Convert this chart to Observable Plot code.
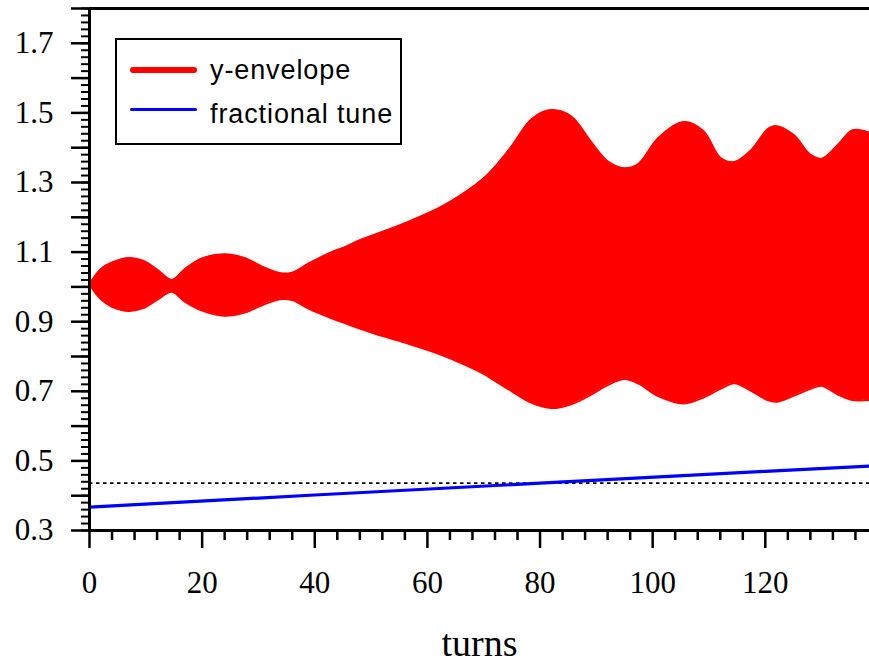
<!DOCTYPE html>
<html>
<head>
<meta charset="utf-8">
<script src="https://cdn.jsdelivr.net/npm/d3@7"></script>
<script src="https://cdn.jsdelivr.net/npm/@observablehq/plot@0.6"></script>
<style>
  html, body { margin: 0; padding: 0; background: white; }
  #wrap { position: relative; width: 869px; height: 663px; overflow: hidden; }
  #legend { position: absolute; left: 115px; top: 38px; width: 283px; height: 103px;
            border: 2px solid black; background: white; font-family: "Liberation Sans", Arial, sans-serif;
            font-size: 27px; letter-spacing: 0.9px; color: black; }
  .sw { position: absolute; left: 13px; width: 67px; }
  .lt { position: absolute; left: 93px; line-height: 1; white-space: nowrap; }
</style>
</head>
<body>
<div id="wrap"></div>
<script>
// ---- data ----
const turns = [0, 2, 4, 7, 9.5, 12, 14.6, 17, 20, 24, 27.5, 31, 34, 36, 39, 43, 45, 48, 51, 56, 62, 67, 70, 72, 75, 78.5, 82, 85.5, 89, 92, 95, 97.5, 101, 105.5, 109, 112, 114.5, 117.5, 120.5, 122, 125, 128, 130, 133, 135.5, 138.5];
const upperEnv = [1.008, 1.051, 1.070, 1.083, 1.075, 1.050, 1.020, 1.052, 1.082, 1.094, 1.083, 1.056, 1.039, 1.041, 1.068, 1.100, 1.112, 1.134, 1.152, 1.183, 1.226, 1.275, 1.312, 1.345, 1.405, 1.482, 1.508, 1.490, 1.418, 1.361, 1.341, 1.354, 1.428, 1.474, 1.448, 1.371, 1.359, 1.393, 1.454, 1.462, 1.437, 1.380, 1.368, 1.410, 1.450, 1.443];
const lowerEnv = [1.008, 0.965, 0.943, 0.931, 0.939, 0.963, 0.986, 0.957, 0.932, 0.917, 0.926, 0.950, 0.965, 0.962, 0.937, 0.910, 0.898, 0.880, 0.864, 0.840, 0.808, 0.774, 0.750, 0.730, 0.700, 0.667, 0.652, 0.663, 0.690, 0.718, 0.735, 0.722, 0.686, 0.665, 0.682, 0.707, 0.723, 0.701, 0.674, 0.670, 0.687, 0.707, 0.716, 0.690, 0.675, 0.675];
const tuneTurns = [0, 40, 80, 120, 138.5];
const tuneValues = [0.367, 0.402, 0.436, 0.470, 0.485];
const resonanceLine = 0.436;

const xMajorTicks = [0, 20, 40, 60, 80, 100, 120];
const xMinorTicks = [4, 8, 12, 16, 24, 28, 32, 36, 44, 48, 52, 56, 64, 68, 72, 76, 84, 88, 92, 96, 104, 108, 112, 116, 124, 128, 132, 136];
const yLabelTicks = [0.3, 0.5, 0.7, 0.9, 1.1, 1.3, 1.5, 1.7];
const yMajorTicks = [0.3, 0.4, 0.5, 0.6, 0.7, 0.8, 0.9, 1.0, 1.1, 1.2, 1.3, 1.4, 1.5, 1.6, 1.7, 1.8];
const yMinorTicks = d3.range(0, 76).map(i => +(0.3 + i * 0.02).toFixed(2));
const xTitle = "turns";
const legendLabels = ["y-envelope", "fractional tune"];

const env = turns.map((t, i) => ({t, hi: upperEnv[i], lo: lowerEnv[i]}));
const tune = tuneTurns.map((t, i) => ({t, v: tuneValues[i]}));

const chart = Plot.plot({
  width: 869, height: 663,
  marginLeft: 89, marginRight: 0, marginTop: 8, marginBottom: 133,
  x: {domain: [0, 138.5], label: null},
  y: {domain: [0.3, 1.8], label: null},
  style: {fontFamily: "'Liberation Serif', 'Times New Roman', serif", fontSize: "31px", color: "black", background: "white", overflow: "visible"},
  marks: [
    Plot.areaY(env, {x: "t", y1: "lo", y2: "hi", fill: "#ff0000", curve: "catmull-rom"}),
    Plot.lineY(env, {x: "t", y: "hi", stroke: "#ff0000", strokeWidth: 2, curve: "catmull-rom"}),
    Plot.lineY(env, {x: "t", y: "lo", stroke: "#ff0000", strokeWidth: 2, curve: "catmull-rom"}),
    Plot.ruleY([resonanceLine], {stroke: "black", strokeWidth: 1.6, strokeDasharray: "3.5,3.5"}),
    Plot.line(tune, {x: "t", y: "v", stroke: "#0000ff", strokeWidth: 3.2}),
    Plot.axisY({ticks: yMinorTicks, tickSize: 8, tickFormat: () => "", strokeWidth: 2, label: null}),
    Plot.axisY({ticks: yMajorTicks, tickSize: 18, tickFormat: () => "", strokeWidth: 2.5, label: null}),
    Plot.axisY({ticks: yLabelTicks, tickSize: 0, tickPadding: 36, tickFormat: d3.format(".1f"), fontSize: 31, label: null}),
    Plot.axisX({ticks: xMinorTicks, tickSize: 10, tickFormat: () => "", strokeWidth: 2.5, label: null}),
    Plot.axisX({ticks: xMajorTicks, tickSize: 18, tickFormat: () => "", strokeWidth: 2.5, label: null}),
    Plot.axisX({ticks: xMajorTicks, tickSize: 0, tickPadding: 40, tickFormat: d => String(d), fontSize: 31, label: null}),
    Plot.ruleX([0], {stroke: "black", strokeWidth: 3}),
    Plot.ruleY([0.3], {stroke: "black", strokeWidth: 3}),
    Plot.ruleY([1.8], {stroke: "black", strokeWidth: 3}),
    Plot.text([xTitle], {frameAnchor: "bottom", text: d => d, dy: 125, fontSize: 38, lineAnchor: "bottom"})
  ]
});

const wrap = document.getElementById("wrap");
wrap.appendChild(chart);

const legend = document.createElement("div");
legend.id = "legend";
legend.innerHTML = `
  <div class="sw" style="top:27px;height:6px;background:#ff0000;border-radius:3px;"></div>
  <div class="lt" style="top:17px;">${legendLabels[0]}</div>
  <div class="sw" style="top:68px;height:3px;background:#0000ff;border-radius:1.5px;"></div>
  <div class="lt" style="top:61px;">${legendLabels[1]}</div>`;
wrap.appendChild(legend);
</script>
</body>
</html>
